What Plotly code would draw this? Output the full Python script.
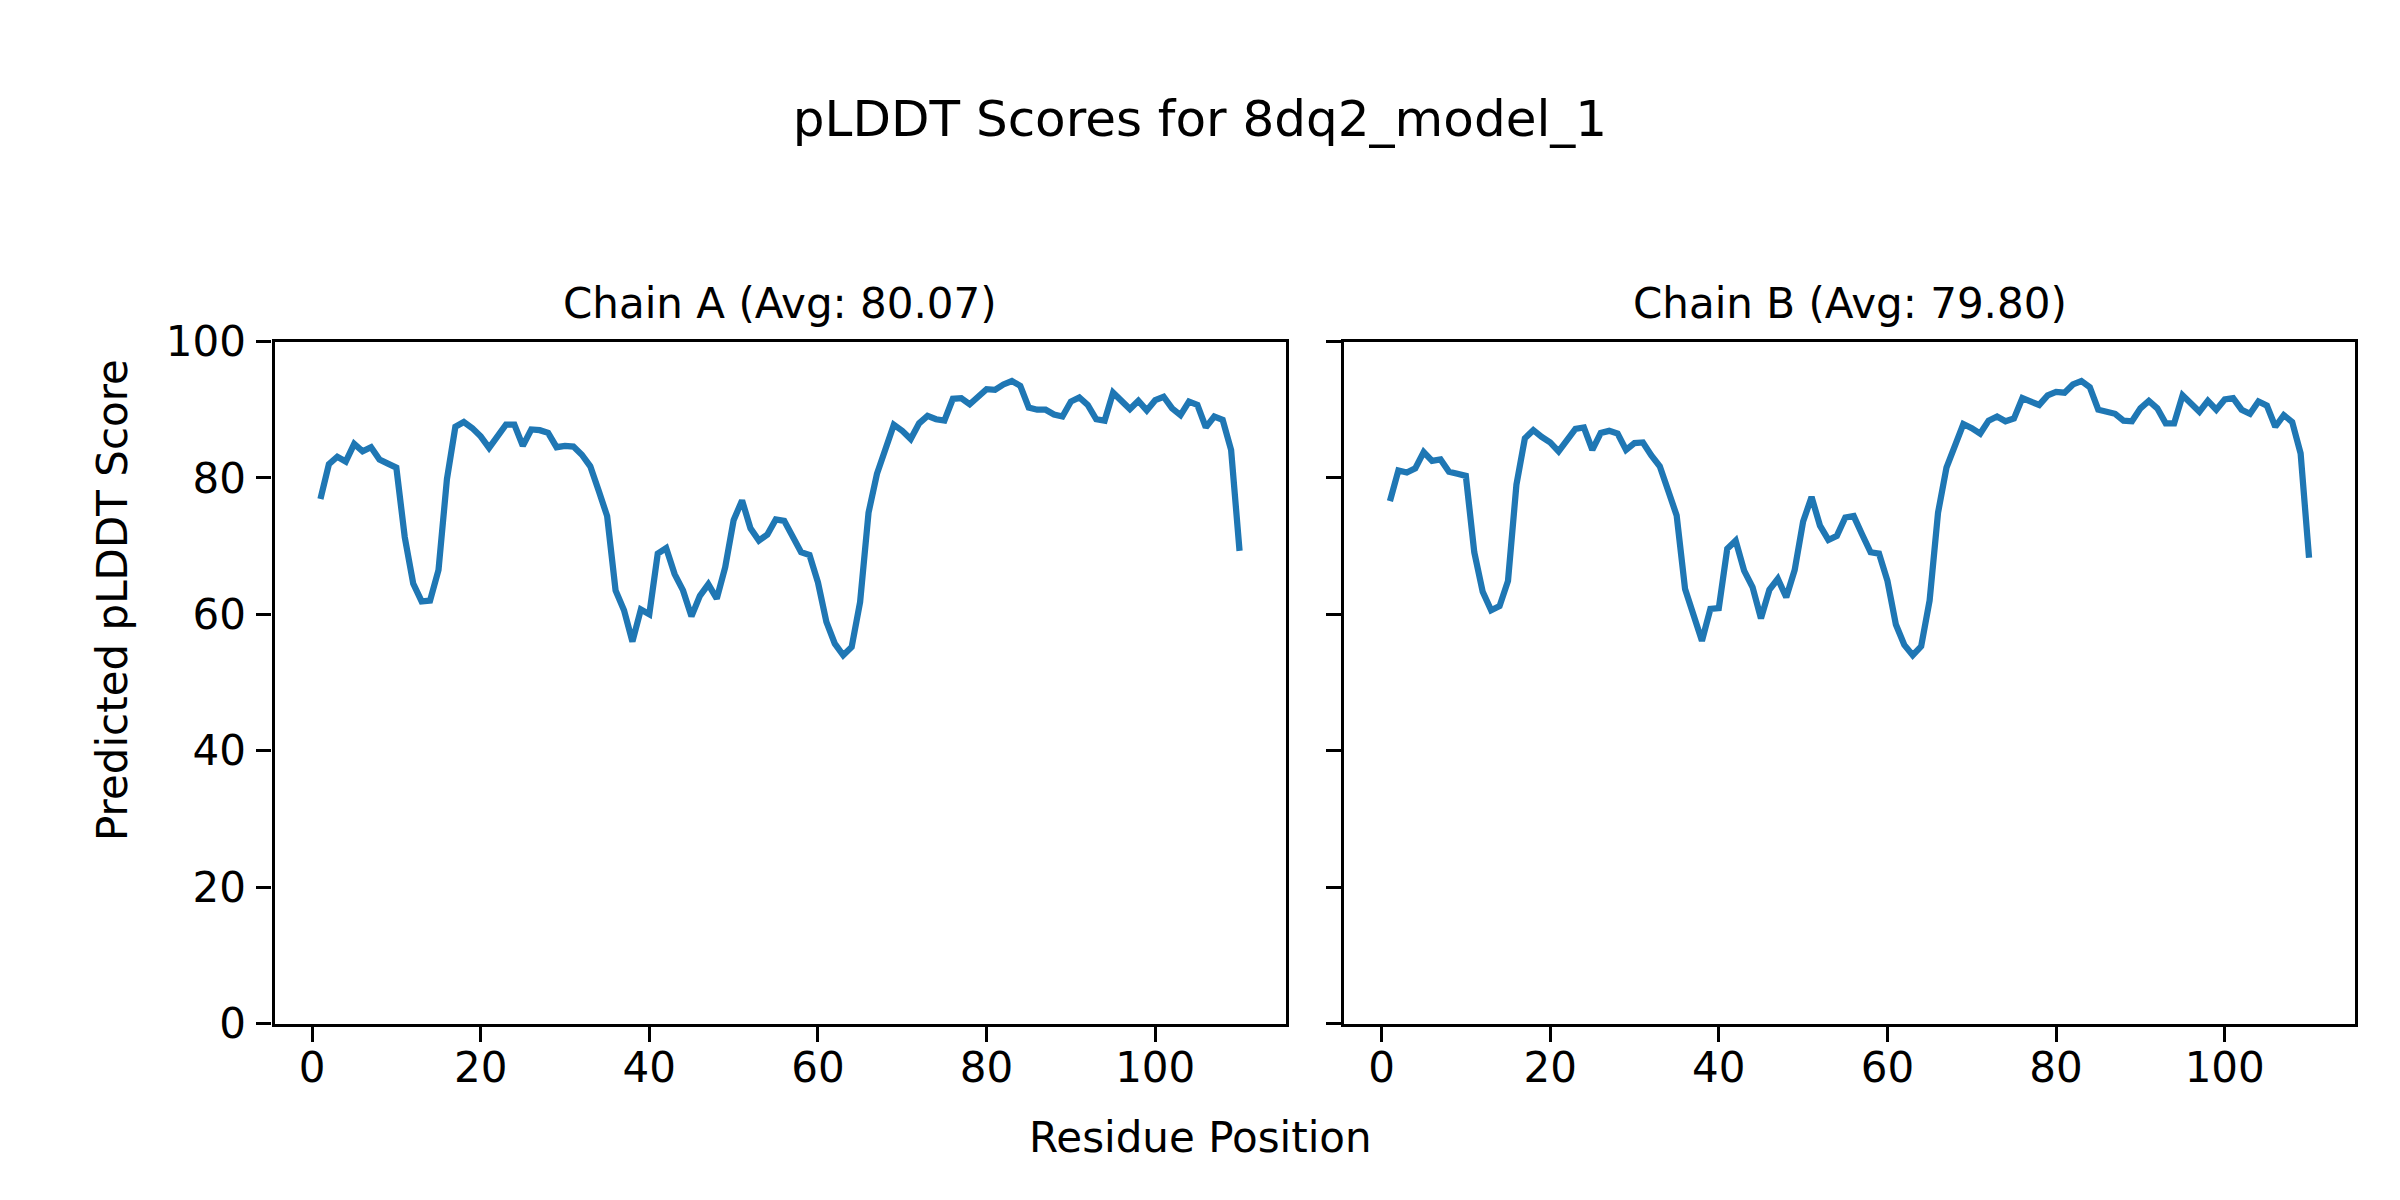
import plotly.graph_objects as go

residues = list(range(1, 111))

chain_a = [
    76.9, 82.0, 83.1, 82.4, 85.0, 83.9, 84.5, 82.7, 82.1, 81.5,
    71.3, 64.5, 61.9, 62.0, 66.5, 79.8, 87.5, 88.2, 87.3, 86.1,
    84.4, 86.2, 87.8, 87.8, 84.7, 87.1, 87.0, 86.6, 84.5, 84.7,
    84.6, 83.4, 81.7, 78.1, 74.4, 63.5, 60.6, 56.0, 60.7, 60.0,
    68.9, 69.7, 65.9, 63.5, 59.7, 62.7, 64.4, 62.3, 66.9, 73.8,
    76.7, 72.6, 70.8, 71.7, 73.9, 73.7, 71.3, 69.1, 68.7, 64.7,
    58.9, 55.7, 54.0, 55.2, 61.8, 74.9, 80.6, 84.1, 87.8, 86.9,
    85.7, 88.0, 89.1, 88.6, 88.4, 91.6, 91.7, 90.8, 92.0, 93.0,
    92.9, 93.7, 94.2, 93.5, 90.3, 90.0, 90.0, 89.3, 89.0, 91.2,
    91.8, 90.7, 88.6, 88.4, 92.5, 91.3, 90.1, 91.3, 89.9, 91.4,
    91.9, 90.2, 89.2, 91.2, 90.7, 87.4, 89.0, 88.5, 84.1, 69.3,
]

chain_b = [
    76.6, 81.1, 80.8, 81.4, 83.8, 82.5, 82.7, 80.9, 80.6, 80.3,
    69.1, 63.3, 60.6, 61.2, 64.9, 79.0, 85.8, 87.0, 86.0, 85.2,
    83.9, 85.6, 87.2, 87.4, 84.1, 86.6, 86.9, 86.5, 84.1, 85.1,
    85.2, 83.3, 81.7, 78.1, 74.5, 63.7, 60.0, 56.1, 60.8, 60.9,
    69.6, 70.8, 66.4, 64.0, 59.4, 63.6, 65.2, 62.5, 66.5, 73.6,
    77.2, 73.0, 70.9, 71.5, 74.2, 74.4, 71.7, 69.1, 68.9, 64.9,
    58.5, 55.5, 54.0, 55.3, 62.0, 74.9, 81.5, 84.6, 87.9, 87.3,
    86.5, 88.4, 89.0, 88.3, 88.7, 91.7, 91.3, 90.7, 92.1, 92.6,
    92.5, 93.7, 94.2, 93.3, 90.0, 89.6, 89.4, 88.4, 88.3, 90.2,
    91.3, 90.2, 88.0, 88.0, 92.1, 90.9, 89.7, 91.3, 90.0, 91.5,
    91.7, 90.0, 89.4, 91.2, 90.6, 87.5, 89.2, 88.2, 83.6, 68.3,
]

avg_a_label = "80.07"
avg_b_label = "79.80"
title_text = "pLDDT Scores for 8dq2_model_1"
x_ticks = [0, 20, 40, 60, 80, 100]
y_ticks = [0, 20, 40, 60, 80, 100]

FONT = "DejaVu Sans"
LINE_COLOR = "#1f77b4"
W, H = 2400, 1200
OFF = 8  # default page body margin


def px_x(x):
    return (x - OFF) / W


def px_y(y):
    return (H + OFF - y) / H


fig = go.Figure()
fig.add_trace(go.Scatter(x=residues, y=chain_a, mode="lines",
                         line=dict(color=LINE_COLOR, width=6.25),
                         xaxis="x", yaxis="y", showlegend=False))
fig.add_trace(go.Scatter(x=residues, y=chain_b, mode="lines",
                         line=dict(color=LINE_COLOR, width=6.25),
                         xaxis="x2", yaxis="y2", showlegend=False))

axis_common = dict(
    showline=True, mirror=True, linecolor="black", linewidth=3.3,
    ticks="outside", ticklen=15, tickwidth=3.3, tickcolor="black",
    showgrid=False, zeroline=False, automargin=False,
    tickfont=dict(family=FONT, size=42, color="black"),
)

xr = [-4.45, 115.45]
dom_a = [px_x(274.5), px_x(1285.5)]
dom_b = [px_x(1344), px_x(2355)]
dom_y = [px_y(1023.5), px_y(341.5)]

fig.update_layout(
    width=W, height=H,
    margin=dict(l=0, r=0, t=0, b=0, autoexpand=False),
    paper_bgcolor="white", plot_bgcolor="white",
    font=dict(family=FONT, size=42, color="black"),
    xaxis=dict(domain=dom_a, range=xr, tickvals=x_ticks,
               anchor="y", ticklabelstandoff=-10, **axis_common),
    yaxis=dict(domain=dom_y, range=[0, 100], tickvals=y_ticks,
               anchor="x", ticklabelstandoff=2, **axis_common),
    xaxis2=dict(domain=dom_b, range=xr, tickvals=x_ticks,
                anchor="y2", ticklabelstandoff=-10, **axis_common),
    yaxis2=dict(domain=dom_y, range=[0, 100], tickvals=y_ticks,
                anchor="x2", showticklabels=False, matches="y", **axis_common),
    title=dict(text=title_text, x=0.5 - OFF / W, xanchor="center",
               y=1 - (118 - OFF) / H, yanchor="middle",
               font=dict(family=FONT, size=50, color="black")),
)

annotations = [
    dict(text=f"Chain A (Avg: {avg_a_label})", x=sum(dom_a) / 2,
         y=px_y(303), xref="paper", yref="paper",
         xanchor="center", yanchor="middle", showarrow=False,
         font=dict(family=FONT, size=42)),
    dict(text=f"Chain B (Avg: {avg_b_label})", x=sum(dom_b) / 2,
         y=px_y(303), xref="paper", yref="paper",
         xanchor="center", yanchor="middle", showarrow=False,
         font=dict(family=FONT, size=42)),
    dict(text="Residue Position", x=px_x(1200), y=px_y(1137),
         xref="paper", yref="paper", xanchor="center", yanchor="middle",
         showarrow=False, font=dict(family=FONT, size=42)),
    dict(text="Predicted pLDDT Score", x=px_x(112), y=px_y(600),
         xref="paper", yref="paper", xanchor="center", yanchor="middle",
         textangle=-90, showarrow=False, font=dict(family=FONT, size=42)),
]
fig.update_layout(annotations=annotations)

fig.write_html("out.html")
